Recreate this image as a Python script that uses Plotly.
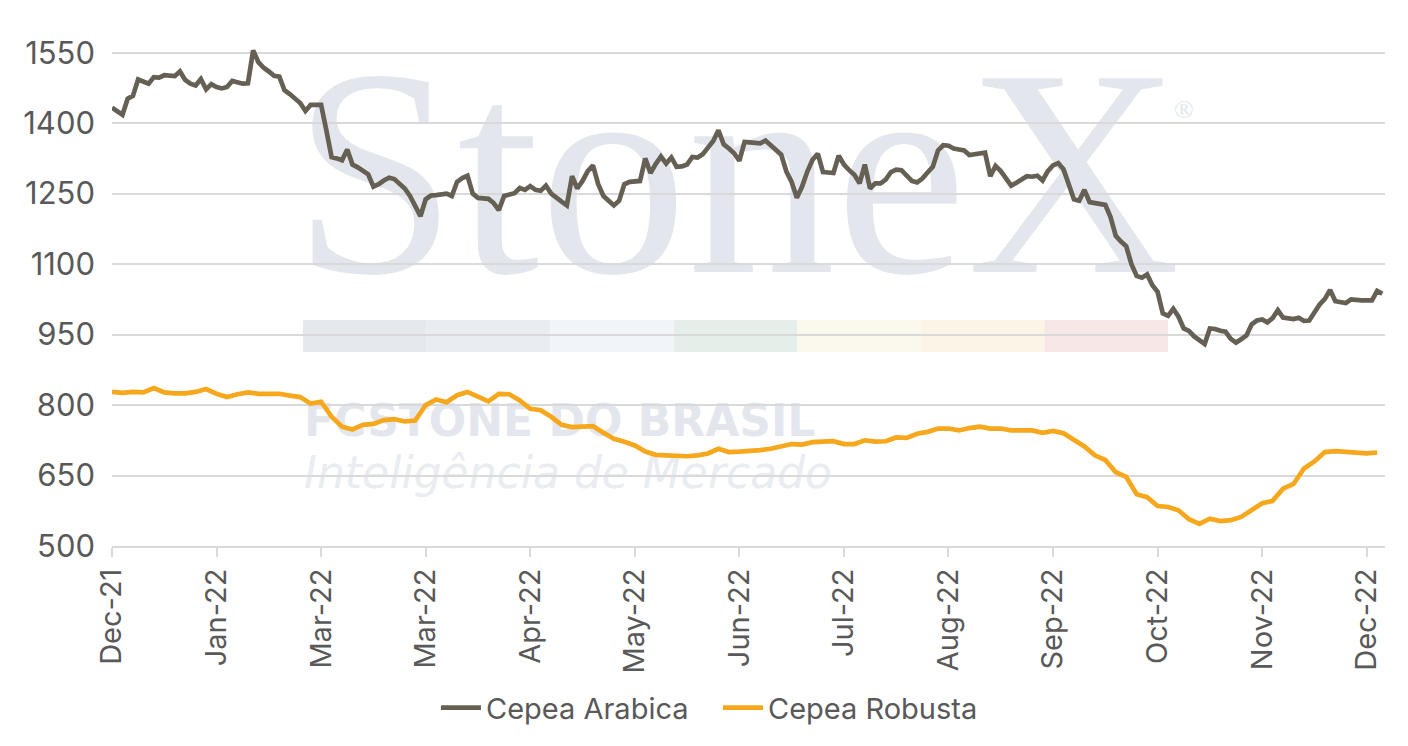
import plotly.graph_objects as go

# trading-day index on a category-style axis (Excel style), 20 sessions per label
tick_days = [0, 20, 40, 60, 80, 100, 120, 140, 160, 180, 200, 220, 240]
tick_labels = ['Dec-21', 'Jan-22', 'Mar-22', 'Mar-22', 'Apr-22', 'May-22', 'Jun-22',
               'Jul-22', 'Aug-22', 'Sep-22', 'Oct-22', 'Nov-22', 'Dec-22']

arabica = [
    1433, 1426, 1418, 1452, 1458, 1493, 1489, 1484, 1498, 1497,
    1502, 1501, 1500, 1510, 1492, 1484, 1480, 1494, 1472, 1483,
    1477, 1474, 1477, 1490, 1488, 1484, 1485, 1555, 1530, 1518,
    1510, 1501, 1499, 1470, 1462, 1454, 1443, 1426, 1439, 1439,
    1439, 1385, 1328, 1325, 1321, 1344, 1312, 1306, 1299, 1291,
    1265, 1270, 1278, 1284, 1281, 1271, 1261, 1245, 1222, 1202,
    1238, 1246, 1247, 1248, 1250, 1245, 1275, 1283, 1288, 1250,
    1241, 1240, 1239, 1230, 1215, 1245, 1247, 1251, 1262, 1258,
    1266, 1258, 1256, 1267, 1250, 1240, 1233, 1225, 1287, 1261,
    1277, 1298, 1310, 1270, 1245, 1235, 1225, 1235, 1270, 1275,
    1275, 1277, 1325, 1294, 1313, 1329, 1314, 1327, 1307, 1308,
    1312, 1328, 1327, 1334, 1348, 1362, 1385, 1355, 1346, 1336,
    1320, 1360, 1359, 1358, 1357, 1363, 1352, 1342, 1333, 1297,
    1275, 1241, 1265, 1297, 1322, 1335, 1296, 1295, 1294, 1331,
    1312, 1300, 1290, 1272, 1312, 1261, 1272, 1272, 1280, 1296,
    1301, 1300, 1290, 1277, 1274, 1282, 1295, 1307, 1342, 1353,
    1352, 1346, 1344, 1342, 1332, 1334, 1335, 1337, 1287, 1309,
    1298, 1282, 1267, 1273, 1280, 1287, 1286, 1288, 1278, 1298,
    1310, 1315, 1302, 1270, 1238, 1235, 1258, 1232, 1230, 1228,
    1226, 1200, 1160, 1148, 1138, 1100, 1075, 1071, 1078, 1055,
    1041, 995, 990, 1005, 988, 963, 958, 946, 938, 930,
    963, 962, 958, 956, 941, 933, 940, 948, 972, 980,
    982, 976, 985, 1002, 986, 984, 983, 986, 979, 980,
    997, 1014, 1026, 1045, 1021, 1018, 1017, 1025, 1023, 1023,
    1023, 1023, 1043, 1037,
]

# robusta read every second session
robusta = [
    828, 826, 828, 827, 836, 827, 825, 825, 828, 834,
    824, 817, 823, 827, 824, 825, 824, 820, 817, 803,
    807, 775, 754, 748, 758, 760, 768, 770, 765, 767,
    800, 812, 806, 821, 828, 818, 808, 824, 823, 810,
    792, 789, 775, 758, 753, 754, 755, 741, 728, 722,
    714, 701, 694, 693, 692, 691, 693, 697, 707, 700,
    701, 702, 704, 707, 711, 717, 716, 721, 722, 723,
    717, 717, 725, 722, 723, 731, 730, 739, 743, 750,
    750, 746, 751, 754, 750, 750, 746, 746, 746, 741,
    745, 740, 726, 712, 693, 683, 657, 647, 610, 604,
    585, 583, 576, 557, 547, 558, 553, 555, 562, 578,
    591, 596, 622, 632, 665, 680, 700, 702, 700, 700,
    697, 699,
]

arabica_days = list(range(len(arabica)))
robusta_days = [2 * i for i in range(len(robusta))]

text_grey = '#595959'
grid_grey = '#d9d9d9'
mark_grey = '#e3e7ed'
font_family = 'Inter, Lato, sans-serif'

fig = go.Figure()
fig.add_trace(go.Scatter(x=arabica_days, y=arabica, name='Cepea Arabica', mode='lines',
                         line=dict(color='#665f54', width=4.7)))
fig.add_trace(go.Scatter(x=robusta_days, y=robusta, name='Cepea Robusta', mode='lines',
                         line=dict(color='#f6a71c', width=4.7)))


# plot area spans 112..1385 px across and 48..546 px down (screen coords)
def px_x(p):
    return (p - 112) / 1273


def px_y(p):
    return (546 - p) / 498


# StoneX watermark, kept under the gridlines and the series
shapes = []
shapes.append(dict(type='rect', xref='paper', yref='paper', layer='below',
                   x0=px_x(294), x1=px_x(1179), y0=px_y(255), y1=px_y(25),
                   line=dict(width=0), fillcolor='rgba(0,0,0,0)',
                   label=dict(text='StoneX', textposition='middle center',
                              font=dict(family='Liberation Serif, DejaVu Serif, serif',
                                        size=296, color=mark_grey))))
shapes.append(dict(type='rect', xref='paper', yref='paper', layer='below',
                   x0=px_x(1168), x1=px_x(1200), y0=px_y(120), y1=px_y(92),
                   line=dict(width=0), fillcolor='rgba(0,0,0,0)',
                   label=dict(text='®', textposition='middle center',
                              font=dict(family='Liberation Serif, serif', size=26, color=mark_grey))))
band_colors = ['#e5e8ec', '#e9edf1', '#f1f5f9', '#e6eee9', '#fbf9ee', '#fdf4e8', '#f8e7e7']
band_w = (1168 - 303) / len(band_colors)
for i, c in enumerate(band_colors):
    shapes.append(dict(type='rect', xref='paper', yref='paper', layer='below',
                       x0=px_x(303 + i * band_w), x1=px_x(303 + (i + 1) * band_w),
                       y0=px_y(352), y1=px_y(320), line=dict(width=0), fillcolor=c))
shapes.append(dict(type='rect', xref='paper', yref='paper', layer='below',
                   x0=px_x(301), x1=px_x(900), y0=px_y(438), y1=px_y(396),
                   line=dict(width=0), fillcolor='rgba(0,0,0,0)',
                   label=dict(text='<b>FCSTONE DO BRASIL</b>', textposition='middle left',
                              padding=0,
                              font=dict(family='DejaVu Sans, sans-serif', size=44,
                                        color=mark_grey))))
shapes.append(dict(type='rect', xref='paper', yref='paper', layer='below',
                   x0=px_x(301), x1=px_x(900), y0=px_y(492), y1=px_y(446),
                   line=dict(width=0), fillcolor='rgba(0,0,0,0)',
                   label=dict(text='<i>Inteligência de Mercado</i>', textposition='middle left',
                              padding=0,
                              font=dict(family='DejaVu Sans, sans-serif', size=44,
                                        color='#e9ecf0'))))

# the page body adds an 8 px offset, so margins are 8 px smaller on the top/left
fig.update_layout(
    width=1408, height=746,
    paper_bgcolor='white', plot_bgcolor='white',
    margin=dict(l=104, r=31, t=40, b=208),
    font=dict(family=font_family, color=text_grey, size=28),
    shapes=shapes,
    showlegend=True,
    legend=dict(orientation='h', x=0.476, xanchor='center', y=-0.325, yanchor='middle',
                font=dict(size=29, color=text_grey), itemwidth=40, tracegroupgap=0,
                entrywidth=227, entrywidthmode='pixels'),
)
fig.update_xaxes(range=[0, 243.5], tickmode='array', tickvals=tick_days, ticktext=tick_labels,
                 tickangle=-90, showgrid=False, zeroline=False, automargin=False,
                 showline=True, linecolor=grid_grey, linewidth=2,
                 ticks='outside', ticklen=9, tickwidth=2, tickcolor=grid_grey,
                 tickfont=dict(size=29, color=text_grey))
fig.update_yaxes(range=[500, 1560], tick0=500, dtick=150, showgrid=True, automargin=False,
                 gridcolor=grid_grey, gridwidth=2, zeroline=False, showline=False,
                 ticks='', ticklabelstandoff=16,
                 tickfont=dict(size=31, color=text_grey))

fig.write_html('out.html')
